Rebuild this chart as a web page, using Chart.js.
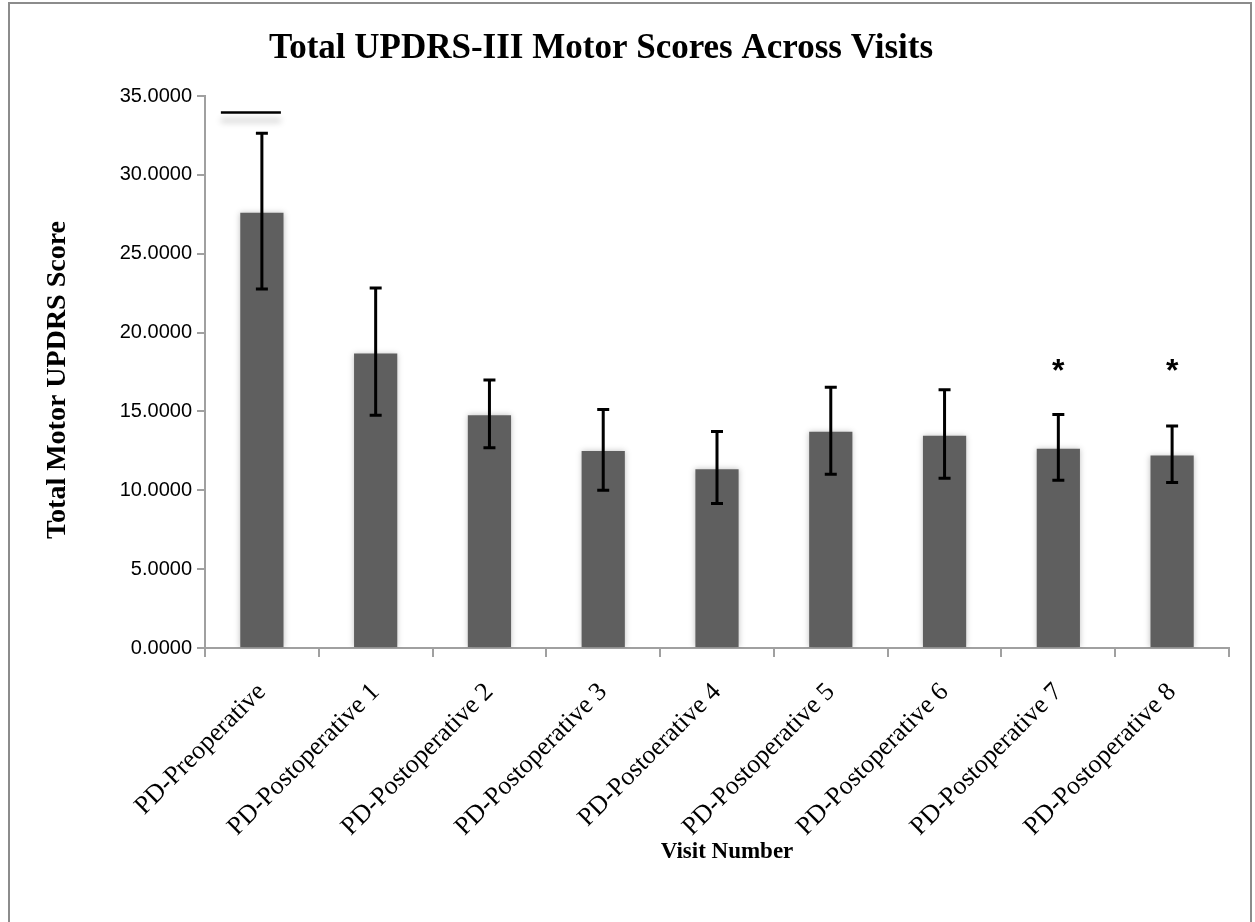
<!DOCTYPE html>
<html>
<head>
<meta charset="utf-8">
<script src="https://cdn.jsdelivr.net/npm/chart.js@4.4.8/dist/chart.umd.min.js"></script>
<style>
  html, body { margin: 0; padding: 0; background: #fff; }
</style>
</head>
<body>
<canvas id="myChart" width="1255" height="922"></canvas>
<script>
  // values
  const visits = ['PD-Preoperative', 'PD-Postoperative 1', 'PD-Postoperative 2', 'PD-Postoperative 3',
    'PD-Postoerative 4', 'PD-Postoperative 5', 'PD-Postoperative 6', 'PD-Postoperative 7', 'PD-Postoperative 8'];
  const meanScore = [27.60, 18.67, 14.75, 12.49, 11.33, 13.71, 13.46, 12.64, 12.20];
  const errUpper = [32.64, 22.83, 17.00, 15.13, 13.73, 16.54, 16.37, 14.81, 14.07];
  const errLower = [22.77, 14.75, 12.70, 10.00, 9.16, 11.01, 10.76, 10.63, 10.49];
  const starVisits = [7, 8];
  const starLevel = 17.85;
  const barLineVisit = 0;
  const barLineLevel = 33.95;

  const serif = 'Liberation Serif';
  const sans = 'Liberation Sans';
  const axisGray = '#a0a0a0';

  const extras = {
    id: 'extras',
    beforeDatasetDraw(chart) {
      const c = chart.ctx;
      c.save();
      c.shadowColor = 'rgba(0,0,0,0.25)';
      c.shadowBlur = 6;
    },
    afterDatasetDraw(chart) {
      chart.ctx.restore();
    },
    afterDatasetsDraw(chart) {
      const c = chart.ctx;
      const x = chart.scales.x, y = chart.scales.y;
      c.save();
      // error bars
      c.strokeStyle = '#000';
      c.lineWidth = 3;
      for (let i = 0; i < meanScore.length; i++) {
        const px = x.getPixelForValue(i);
        const top = y.getPixelForValue(errUpper[i]);
        const bot = y.getPixelForValue(errLower[i]);
        c.beginPath();
        c.moveTo(px, top); c.lineTo(px, bot);
        c.moveTo(px - 6, top); c.lineTo(px + 6, top);
        c.moveTo(px - 6, bot); c.lineTo(px + 6, bot);
        c.stroke();
      }
      // line above first bar
      const lx = x.getPixelForValue(barLineVisit);
      const ly = y.getPixelForValue(barLineLevel);
      c.save();
      c.shadowColor = 'rgba(0,0,0,0.3)';
      c.shadowBlur = 6;
      c.shadowOffsetY = 8;
      c.lineWidth = 2.5;
      c.beginPath();
      c.moveTo(lx - 41, ly); c.lineTo(lx + 19, ly);
      c.stroke();
      c.restore();
      // asterisks
      c.fillStyle = '#000';
      c.font = 'bold 32px ' + sans;
      c.textAlign = 'center';
      c.textBaseline = 'alphabetic';
      starVisits.forEach(i => {
        c.fillText('*', x.getPixelForValue(i), y.getPixelForValue(starLevel) + 15);
      });
      c.restore();
    },
    afterDraw(chart) {
      const c = chart.ctx;
      c.save();
      // outer frame
      c.strokeStyle = '#8c8c8c';
      c.lineWidth = 2;
      c.beginPath();
      c.moveTo(9, 922); c.lineTo(9, 3); c.lineTo(1251, 3); c.lineTo(1251, 922);
      c.stroke();
      c.fillStyle = '#000';
      c.textAlign = 'center';
      c.textBaseline = 'middle';
      c.font = 'bold 35px ' + serif;
      c.fillText('Total UPDRS-III Motor Scores Across Visits', 601, 49);
      c.font = 'bold 23px ' + serif;
      c.fillText('Visit Number', 727, 852);
      c.font = 'bold 28px ' + serif;
      c.translate(58, 380);
      c.rotate(-Math.PI / 2);
      c.fillText('Total Motor UPDRS Score', 0, 0);
      c.restore();
    }
  };

  new Chart(document.getElementById('myChart'), {
    type: 'bar',
    data: {
      labels: visits,
      datasets: [{
        data: meanScore,
        backgroundColor: '#5f5f5f',
        borderWidth: 0,
        categoryPercentage: 1,
        barPercentage: 0.38
      }]
    },
    options: {
      responsive: false,
      animation: false,
      devicePixelRatio: 1,
      layout: { padding: { left: 0, right: 26, top: 96, bottom: 0 } },
      plugins: { legend: { display: false }, tooltip: { enabled: false }, title: { display: false } },
      scales: {
        x: {
          offset: true,
          grid: { offset: true, drawOnChartArea: false, color: axisGray, lineWidth: 2, tickLength: 9 },
          border: { color: axisGray, width: 2 },
          ticks: {
            autoSkip: false, minRotation: 45, maxRotation: 45, padding: 20,
            color: '#000', font: { family: serif, size: 26 }
          },
          afterFit(s) { s.height = 922 - 648; }
        },
        y: {
          min: 0, max: 35,
          grid: { drawOnChartArea: false, color: axisGray, lineWidth: 2, tickLength: 8 },
          border: { color: axisGray, width: 2 },
          ticks: {
            stepSize: 5, padding: 5, color: '#000', font: { family: sans, size: 20 },
            callback: v => v.toFixed(4)
          },
          afterFit(s) { s.width = 205; }
        }
      }
    },
    plugins: [extras]
  });
</script>
</body>
</html>
